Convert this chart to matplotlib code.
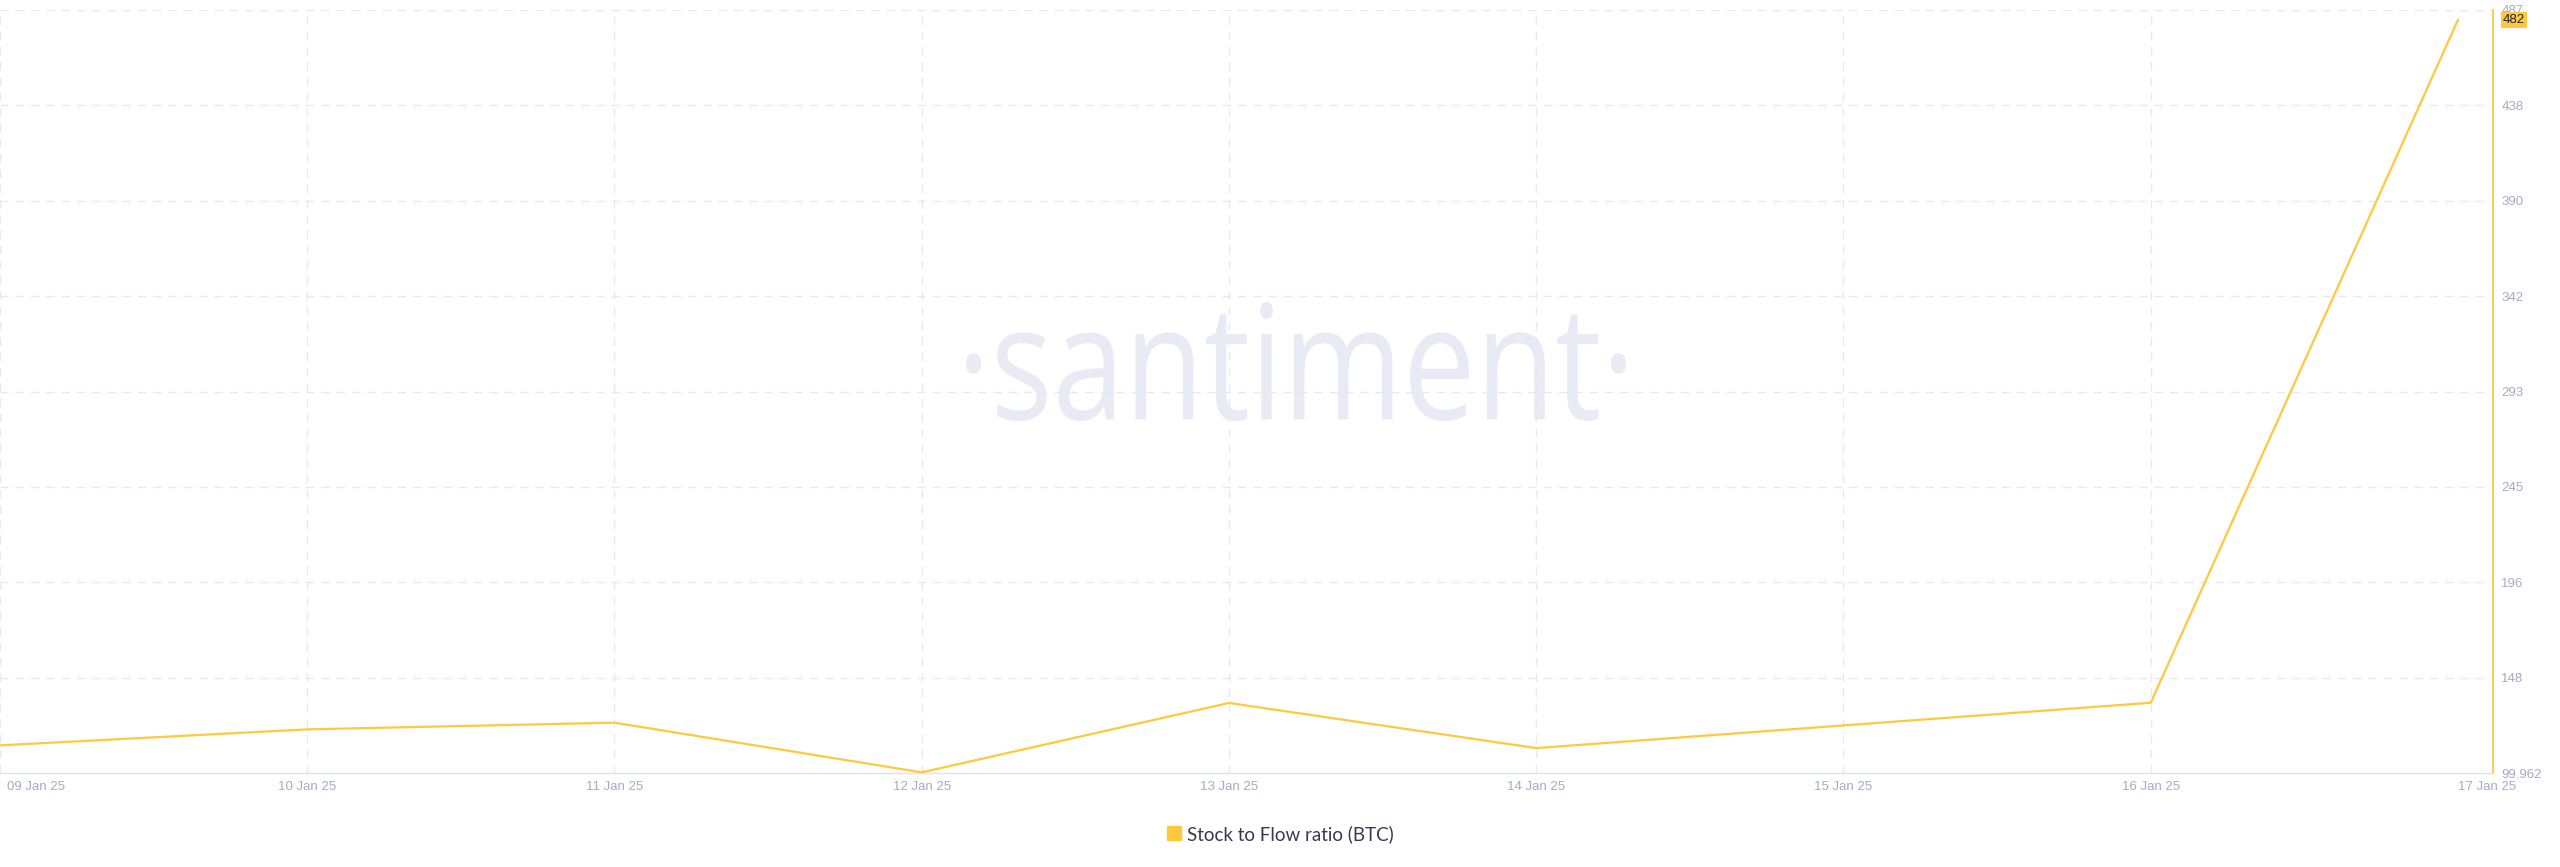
import numpy as np
import matplotlib
matplotlib.use("Agg")
import matplotlib.pyplot as plt
import matplotlib.dates as mdates
from matplotlib.lines import Line2D
from matplotlib.patches import PathPatch
from matplotlib.textpath import TextPath
from matplotlib.font_manager import FontProperties
from matplotlib.transforms import Affine2D

# data
dates = np.array(["2025-01-09", "2025-01-10", "2025-01-11", "2025-01-12", "2025-01-13",
                  "2025-01-14", "2025-01-15", "2025-01-16", "2025-01-17"], dtype="datetime64[D]")
s2f = [114.0, 122.1, 125.5, 100.3, 135.5, 112.6, 124.1, 135.6, 482.0]
x_labels = ["09 Jan 25", "10 Jan 25", "11 Jan 25", "12 Jan 25", "13 Jan 25",
            "14 Jan 25", "15 Jan 25", "16 Jan 25", "17 Jan 25"]
y_min, y_max = 99.962, 487
y_labels = ["99.962", "148", "196", "245", "293", "342", "390", "438", "487"]
series_name = "Stock to Flow ratio (BTC)"

YELLOW = "#FFC83D"
GRID = "#E6E9F2"
TICK = "#A3ACC6"

fig = plt.figure(figsize=(25.6, 8.67), dpi=100, facecolor="white")
ax = fig.add_axes([0, (867 - 773) / 867, 2493 / 2560, (773 - 10) / 867])
ax.patch.set_visible(False)

x = mdates.date2num(dates)
ax.plot(x, s2f, color=YELLOW, lw=1.6, zorder=3)

ax.set_xlim(x[0], x[-1] + 0.114)
ax.set_ylim(y_min, y_max)

# x axis (first label is drawn separately, nudged right like the original)
ax.set_xticks(x)
ax.set_xticklabels([""] + x_labels[1:])
xlabs = ax.get_xticklabels()
for lab in xlabs:
    lab.set_fontfamily("Liberation Sans")
    lab.set_fontsize(9.5)
    lab.set_color(TICK)
xlabs[-1].set_horizontalalignment("left")
ax.tick_params(axis="x", length=0, pad=6)
ax.annotate(x_labels[0], xy=(x[0], 0), xycoords=("data", "axes fraction"),
            xytext=(5, -6), textcoords="offset points", ha="left", va="top",
            fontsize=9.5, family="Liberation Sans", color=TICK)

# y axis on the right
step = (y_max - y_min) / 8
ax.yaxis.tick_right()
ax.set_yticks([y_min + k * step for k in range(9)])
ax.set_yticklabels(y_labels)
ax.tick_params(axis="y", length=0, pad=6, labelsize=9.5, labelcolor=TICK)
for lab in ax.get_yticklabels():
    lab.set_fontfamily("Liberation Sans")

# grid
dash = (0, (6, 5))
for k in range(1, 9):
    ax.axhline(y_min + k * step, color=GRID, lw=1, ls=dash, zorder=1)
for xv in x[:-1]:
    ax.axvline(xv, color=GRID, lw=1, ls=dash, zorder=1)

for side in ["left", "top"]:
    ax.spines[side].set_visible(False)
ax.spines["bottom"].set_color("#DDE1EC")
ax.spines["bottom"].set_linewidth(1)
ax.spines["right"].set_color(YELLOW)
ax.spines["right"].set_linewidth(1.3)

# last value badge
ax.annotate("482", xy=(1, s2f[-1]), xycoords=("axes fraction", "data"),
            xytext=(7, 0), textcoords="offset points", ha="left", va="center",
            fontsize=9.5, family="Liberation Sans", color="#1F2436",
            bbox=dict(boxstyle="square,pad=0.15", fc=YELLOW, ec="none"), zorder=5)

# watermark
tp = TextPath((0, 0), "·santiment·", size=100, prop=FontProperties(family="Open Sans"))
bb = tp.get_extents()
x0, x1 = 966, 1626
yb, yt = 867 - 421, 867 - 302
tr = Affine2D().translate(-bb.x0, -bb.y0).scale((x1 - x0) / bb.width, (yt - yb) / bb.height).translate(x0, yb)
wm = PathPatch(tp, transform=tr, fc="#E9EBF4", ec="none", zorder=-1)
fig.add_artist(wm)

# legend
handle = Line2D([], [], marker="s", ls="none", markersize=9.5, color=YELLOW)
fig.legend([handle], [series_name], loc="center", bbox_to_anchor=(1280 / 2560, 33 / 867),
           frameon=False, handletextpad=0.3, handlelength=0.8,
           prop=FontProperties(family="Lato", size=13.5), labelcolor="#353B4F")

fig.savefig("out.png", dpi=100, facecolor="white")
